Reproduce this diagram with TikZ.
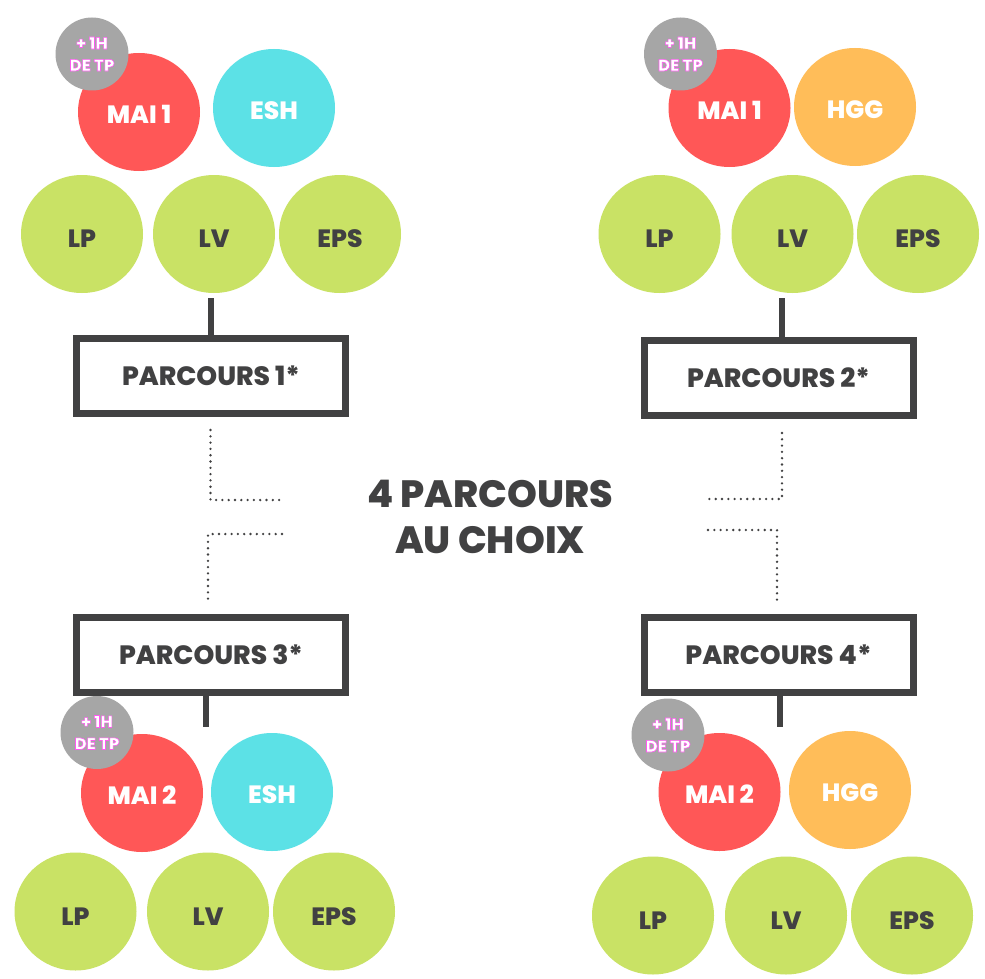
\documentclass[tikz,border=0pt]{standalone}
\usepackage{fontspec}
\setmainfont{Poppins}[BoldFont={Poppins ExtraBold}]
\usetikzlibrary{shapes.geometric,calc}
\definecolor{cred}{HTML}{FF5757}
\definecolor{ccyan}{HTML}{5CE1E6}
\definecolor{corange}{HTML}{FFBD59}
\definecolor{cgreen}{HTML}{C9E265}
\definecolor{cgray}{HTML}{A6A6A6}
\definecolor{cdark}{HTML}{414142}
\newcommand\glitchtxt[1]{%
  \special{pdf:literal direct 1 0.35 0.95 RG 0.6 w 2 Tr}#1\special{pdf:literal direct 0 Tr}}
\begin{document}
\begin{tikzpicture}[x=1pt,y=-1pt,
  bub/.style={ellipse,minimum width=122pt,minimum height=118pt,inner sep=0pt,text=white,
    text height=22.5pt,text depth=0pt,font=\bfseries\fontsize{25}{25}\selectfont},
  redbub/.style={bub,fill=cred},
  cyanbub/.style={bub,fill=ccyan},
  orbub/.style={bub,fill=corange},
  greenbub/.style={bub,fill=cgreen,text=cdark,text height=27.5pt},
  tpbub/.style={circle,fill=cgray,minimum size=73pt,inner sep=0pt,align=center,text=white,
    font=\bfseries\fontsize{16.5}{22}\selectfont},
  pbox/.style={draw=cdark,line width=7pt,fill=white,minimum width=269pt,minimum height=75pt,
    inner sep=0pt,text=cdark,font=\bfseries\fontsize{26.5}{26.5}\selectfont},
  stem/.style={draw=cdark,line width=6pt},
  dots/.style={draw=cdark,line width=2.6pt,line cap=round,dash pattern=on 0pt off 6.3pt},
  title/.style={align=center,inner sep=0pt,text=cdark,font=\bfseries\fontsize{38}{46}\selectfont}]
\useasboundingbox (0,0) rectangle (985,979);
\fill[white] (0,0) rectangle (985,979);

% ---------- Parcours 1 ----------
\node[redbub] (maia) at (139,112) {MAI 1};
\node[cyanbub] (esha) at (274,108) {ESH};
\node[tpbub] (tpa) at (92,54) {\glitchtxt{+ 1H}\\\glitchtxt{DE TP}};
\node[greenbub] (lpa) at (82,234) {LP};
\node[greenbub] (lva) at (214,234) {LV};
\node[greenbub] (epsa) at (340,234) {EPS};
\node[pbox] (boxa) at (211,376) {PARCOURS 1*};
\draw[stem,shorten >=5pt] (boxa.north) -- (boxa.north |- lva.south);

% ---------- Parcours 2 ----------
\node[redbub] (maib) at (729.5,108) {MAI 1};
\node[orbub] (hggb) at (855,107) {HGG};
\node[tpbub] (tpb) at (680.5,54) {\glitchtxt{+ 1H}\\\glitchtxt{DE TP}};
\node[greenbub] (lpb) at (659.5,234) {LP};
\node[greenbub] (lvb) at (792.5,234) {LV};
\node[greenbub] (epsb) at (918,234) {EPS};
\node[pbox] (boxb) at (778.5,378) {PARCOURS 2*};
\draw[stem,shorten >=5pt] ([xshift=3.5pt]boxb.north) -- ([xshift=3.5pt]boxb.north |- lvb.south);

% ---------- Parcours 3 ----------
\node[pbox] (boxc) at (211,654.5) {PARCOURS 3*};
\coordinate (stc) at (206,727);
\draw[stem] (boxc.south -| stc) -- (stc);
\node[redbub] (maic) at (142,793) {MAI 2};
\node[cyanbub] (eshc) at (272,792) {ESH};
\node[tpbub] (tpc) at (97,732.5) {\glitchtxt{+ 1H}\\\glitchtxt{DE TP}};
\node[greenbub] (lpc) at (75.5,911.5) {LP};
\node[greenbub] (lvc) at (208,911.5) {LV};
\node[greenbub] (epsc) at (334,911.5) {EPS};

% ---------- Parcours 4 ----------
\node[pbox] (boxd) at (778.5,654.5) {PARCOURS 4*};
\coordinate (std) at (780,727);
\draw[stem] (boxd.south -| std) -- (std);
\node[redbub] (maid) at (719.5,792) {MAI 2};
\node[orbub] (hggd) at (850,790) {HGG};
\node[tpbub] (tpd) at (668,735) {\glitchtxt{+ 1H}\\\glitchtxt{DE TP}};
\node[greenbub] (lpd) at (653,915.5) {LP};
\node[greenbub] (lvd) at (786,915.5) {LV};
\node[greenbub] (epsd) at (912,915.5) {EPS};

% ---------- centre ----------
\node[title] (title) at (490,517) {4 PARCOURS\\AU CHOIX};

\coordinate (da1) at (210.5,430);
\coordinate (da2) at (210.5,500);
\coordinate (da3) at (280,500);
\draw[dots] (da1) -- (da2) -- (da3);
\coordinate (dc1) at (282,534);
\coordinate (dc2) at (208,534);
\coordinate (dc3) at (208,601);
\draw[dots] (dc1) -- (dc2) -- (dc3);
\coordinate (db1) at (782,433);
\coordinate (db2) at (782,499);
\coordinate (db3) at (708,499);
\draw[dots] (db1) -- (db2) -- (db3);
\coordinate (dd1) at (708,530);
\coordinate (dd2) at (777,530);
\coordinate (dd3) at (777,602);
\draw[dots] (dd1) -- (dd2) -- (dd3);
\end{tikzpicture}
\end{document}
